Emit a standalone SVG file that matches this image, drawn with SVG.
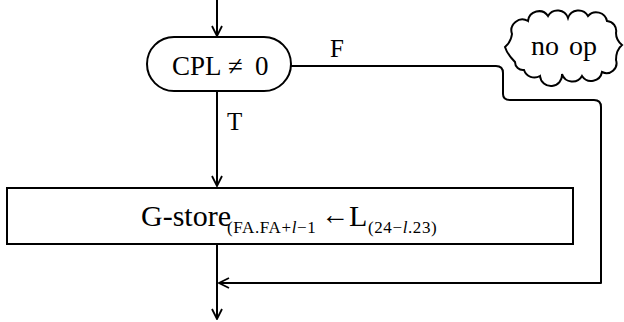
<svg xmlns="http://www.w3.org/2000/svg" width="624" height="322" viewBox="0 0 624 322">
<defs>
<style>
.ln{fill:none;stroke:#000;stroke-width:2;stroke-linejoin:round}
.sh{fill:#fff;stroke:#000;stroke-width:2}
.serif{font-family:"Liberation Serif","Times New Roman",serif;fill:#000}
.sub{font-size:17px}
</style>
<marker id="ah" viewBox="0 0 12 12" refX="11" refY="6" markerWidth="12" markerHeight="12" markerUnits="userSpaceOnUse" orient="auto">
<path d="M1,1 L11,6 L1,11" fill="none" stroke="#000" stroke-width="1.8"/>
</marker>
</defs>
<g id="connectors">
<line class="ln" x1="217" y1="0" x2="217" y2="36" marker-end="url(#ah)"/>
<line class="ln" x1="217" y1="91" x2="217" y2="186" marker-end="url(#ah)"/>
<path class="ln" d="M291,66 H496 Q503,66 503,73 V94 Q503,100 510,100 H594 Q601,100 601,107 V283 H219" marker-end="url(#ah)"/>
<line class="ln" x1="217" y1="244" x2="217" y2="319" marker-end="url(#ah)"/>
<text class="serif" x="330" y="57" font-size="25">F</text>
<text class="serif" x="227" y="130" font-size="25">T</text>
</g>
<g id="decision">
<rect class="sh" x="147" y="37" width="144" height="54" rx="27"/>
<text class="serif" y="75" font-size="27"><tspan x="172">CPL</tspan><tspan x="228">≠</tspan><tspan x="255">0</tspan></text>
</g>
<g id="noop">
<path class="sh" d="M515,62 Q507,54 505,47 Q511,42 512,34 A11,11 0 0 1 528,21 A11,11 0 0 1 548,16 A11,11 0 0 1 568,18 A11,11 0 0 1 588,16 A11,11 0 0 1 607,21 A10,10 0 0 1 616,33 Q616,40 622,45 Q616,50 616,60 A10,10 0 0 1 602,72 A11,11 0 0 1 582,76 A11,11 0 0 1 562,74 A11,11 0 0 1 540,76 A11,11 0 0 1 524,70 A8,8 0 0 1 515,62 Z"/>
<text class="serif" x="564" y="55" font-size="28" text-anchor="middle" word-spacing="3">no op</text>
</g>
<g id="store">
<rect class="sh" x="7" y="188" width="566" height="56"/>
<text class="serif" y="226" font-size="30"><tspan x="141">G-store</tspan><tspan class="sub" x="227" y="233" letter-spacing="0.6">(FA.FA+<tspan font-style="italic">l</tspan>−1</tspan><tspan x="321" y="224" font-size="28">←</tspan><tspan x="349" y="226">L</tspan><tspan class="sub" x="368" y="233" letter-spacing="0.6">(24−<tspan font-style="italic">l</tspan>.23)</tspan></text>
</g>
</svg>
